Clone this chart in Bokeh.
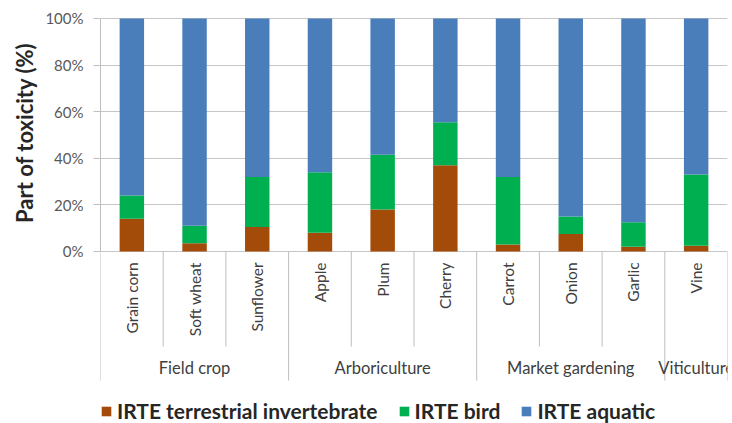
import math
from bokeh.plotting import figure
from bokeh.models import (ColumnDataSource, FactorRange, Range1d, FixedTicker,
                          NumeralTickFormatter, Legend, LegendItem, Title)
from bokeh.core.properties import value
from bokeh.embed import file_html
from bokeh.resources import INLINE

# ---------------- data ----------------
groups = ["Field crop", "Field crop", "Field crop",
          "Arboriculture", "Arboriculture", "Arboriculture",
          "Market gardening", "Market gardening", "Market gardening",
          "Viticulture"]
crops = ["Grain corn", "Soft wheat", "Sunflower", "Apple", "Plum", "Cherry",
         "Carrot", "Onion", "Garlic", "Vine"]
terrestrial = [14.0, 3.5, 10.5, 8.0, 18.0, 37.0, 3.0, 7.5, 2.0, 2.5]
bird = [10.0, 7.5, 21.5, 26.0, 23.5, 18.5, 29.0, 7.5, 10.5, 30.5]
aquatic = [76.0, 89.0, 68.0, 66.0, 58.5, 44.5, 68.0, 85.0, 87.5, 67.0]
y_ticks = [0, 20, 40, 60, 80, 100]
series_names = ["IRTE terrestrial invertebrate", "IRTE bird", "IRTE aquatic"]
colors = ["#A34C0A", "#00B050", "#4A7EBB"]

FONT = "Lato"
factors = list(zip(groups, crops))

src = ColumnDataSource(dict(
    x=factors,
    terr=[v / 100 for v in terrestrial],
    bird=[v / 100 for v in bird],
    aqua=[v / 100 for v in aquatic],
))

p = figure(x_range=FactorRange(*factors, group_padding=0, range_padding=0),
           y_range=Range1d(-0.738, 1.034),
           width=732, height=423, output_backend="svg", toolbar_location=None,
           x_axis_location=None,
           min_border_left=100, min_border_right=5, min_border_top=10,
           min_border_bottom=0)
p.outline_line_color = None
p.xgrid.visible = False

# y axis
ax = p.yaxis[0]
ax.ticker = FixedTicker(ticks=[t / 100 for t in y_ticks])
ax.formatter = NumeralTickFormatter(format="0%")
ax.bounds = (0, 1)
ax.axis_line_color = "#BFBFBF"
ax.major_tick_line_color = "#BFBFBF"
ax.major_tick_out = 7
ax.major_tick_in = 0
ax.minor_tick_line_color = None
ax.major_label_standoff = 10
ax.major_label_text_font = FONT
ax.major_label_text_font_size = "15px"
ax.major_label_text_color = "#595959"
p.ygrid.grid_line_color = "#C6C6C6"

p.add_layout(Title(text="Part of toxicity (%)", align="right", offset=32,
                   text_font=FONT, text_font_size="22px",
                   text_font_style="bold", text_color="#262626"), "left")

# bars
renderers = p.vbar_stack(["terr", "bird", "aqua"], x="x", width=0.39,
                         fill_color=colors, line_color=None, source=src)

# category labels (rotated)
p.text(x=factors, y=-0.047, text=crops, angle=math.pi / 2,
       text_align="right", text_baseline="middle",
       text_font=value(FONT), text_font_size="15.5px", text_color="#404040")

# separators
inner_x = []
group_x = []
for i, (g, c) in enumerate(factors):
    if i == 0 or groups[i - 1] != g:
        group_x.append((g, c, -0.5))
    else:
        inner_x.append((g, c, -0.5))
group_x.append((groups[-1], crops[-1], 0.5))

p.segment(x0=inner_x, y0=0, x1=inner_x, y1=-0.408,
          line_color="#BFBFBF", line_width=1)
p.segment(x0=group_x, y0=0, x1=group_x, y1=-0.554,
          line_color="#BFBFBF", line_width=1)

# group labels
group_names = list(dict.fromkeys(groups))
p.text(x=group_names, y=-0.502, text=group_names,
       text_align="center", text_baseline="middle",
       text_font=value(FONT), text_font_size="16.5px", text_color="#404040")

legend = Legend(items=[LegendItem(label=n, renderers=[r])
                       for n, r in zip(series_names, renderers)],
                orientation="horizontal", location=(0, 0),
                spacing=20, glyph_width=12, glyph_height=12, label_standoff=5,
                label_text_font=FONT, label_text_font_style="bold",
                label_text_font_size="21px", label_text_color="#262626",
                padding=0, margin=0, border_line_color=None,
                background_fill_alpha=0)
p.add_layout(legend, "center")

open("out.html", "w").write(file_html(p, INLINE))
